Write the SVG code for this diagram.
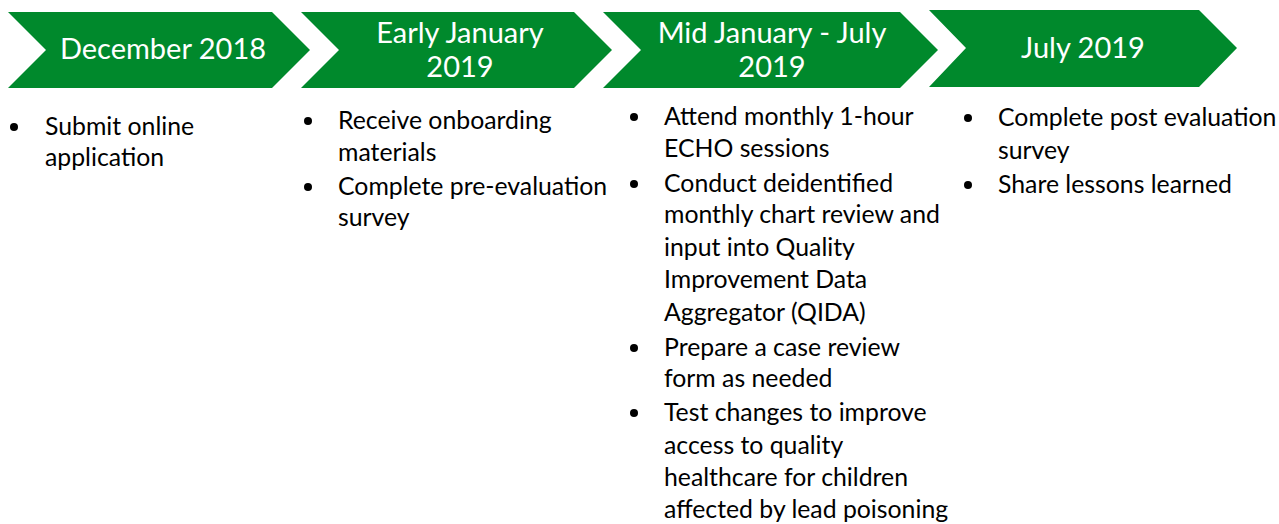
<svg xmlns="http://www.w3.org/2000/svg" width="1279" height="524" viewBox="0 0 1279 524">
<style>
.chev{fill:#00892C}
.hd{font-family:Lato,"Liberation Sans",sans-serif;font-size:29px;fill:#fff;text-anchor:middle}
.bt{font-family:Lato,"Liberation Sans",sans-serif;font-size:24.8px;fill:#000}
.dot{fill:#000}
</style>
<rect width="1279" height="524" fill="#fff"/>
<g id="step1">
<polygon class="chev" points="8,12 272,12 310,50 272,88 8,88 46,50"/>
<text class="hd" x="163" y="59">December 2018</text>
</g>
<g id="step2">
<polygon class="chev" points="301,12 574,12 612,50 574,88 301,88 339,50"/>
<text class="hd" x="460" y="43">Early January</text>
<text class="hd" x="460" y="77">2019</text>
</g>
<g id="step3">
<polygon class="chev" points="603,12 900,12 938,50 900,88 603,88 641,50"/>
<text class="hd" x="772" y="43">Mid January - July</text>
<text class="hd" x="772" y="77">2019</text>
</g>
<g id="step4">
<polygon class="chev" points="929,10 1199,10 1237,48 1199,87 929,87 966,48"/>
<text class="hd" x="1083" y="58">July 2019</text>
</g>
<g id="list1">
<circle class="dot" cx="14" cy="127" r="4"/>
<text class="bt" x="45" y="135">Submit online</text>
<text class="bt" x="45" y="166">application</text>
</g>
<g id="list2">
<circle class="dot" cx="308" cy="121" r="4"/>
<text class="bt" x="338" y="129">Receive onboarding</text>
<text class="bt" x="338" y="161">materials</text>
<circle class="dot" cx="308" cy="187" r="4"/>
<text class="bt" x="338" y="195">Complete pre-evaluation</text>
<text class="bt" x="338" y="226">survey</text>
</g>
<g id="list3">
<circle class="dot" cx="634" cy="117" r="4"/>
<text class="bt" x="664" y="125">Attend monthly 1-hour</text>
<text class="bt" x="664" y="157">ECHO sessions</text>
<circle class="dot" cx="634" cy="184" r="4"/>
<text class="bt" x="664" y="192">Conduct deidentified</text>
<text class="bt" x="664" y="223">monthly chart review and</text>
<text class="bt" x="664" y="256">input into Quality</text>
<text class="bt" x="664" y="288">Improvement Data</text>
<text class="bt" x="664" y="321">Aggregator (QIDA)</text>
<circle class="dot" cx="634" cy="348" r="4"/>
<text class="bt" x="664" y="356">Prepare a case review</text>
<text class="bt" x="664" y="387">form as needed</text>
<circle class="dot" cx="634" cy="413" r="4"/>
<text class="bt" x="664" y="421">Test changes to improve</text>
<text class="bt" x="664" y="454">access to quality</text>
<text class="bt" x="664" y="486">healthcare for children</text>
<text class="bt" x="664" y="518">affected by lead poisoning</text>
</g>
<g id="list4">
<circle class="dot" cx="968" cy="118" r="4"/>
<text class="bt" x="998" y="126">Complete post evaluation</text>
<text class="bt" x="998" y="159">survey</text>
<circle class="dot" cx="968" cy="185" r="4"/>
<text class="bt" x="998" y="193">Share lessons learned</text>
</g>
</svg>
